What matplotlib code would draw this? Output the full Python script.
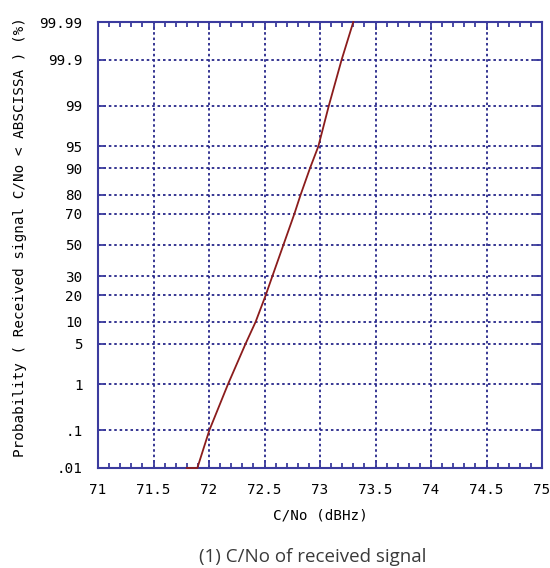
import math
import numpy as np
import matplotlib
matplotlib.use("Agg")
import matplotlib.pyplot as plt
from matplotlib.ticker import FixedLocator, FixedFormatter, MultipleLocator

# ---- data ----
cno_dbhz = [71.80, 71.895, 72.003, 72.17, 72.33, 72.42, 72.51, 72.57, 72.67,
            72.77, 72.826, 72.91, 72.985, 73.08, 73.195, 73.30]
prob_pct = [0.01, 0.01, 0.1, 1, 5, 10, 20, 30, 50,
            70, 80, 90, 95, 99, 99.9, 99.99]
y_ticks = [0.01, 0.1, 1, 5, 10, 20, 30, 50, 70, 80, 90, 95, 99, 99.9, 99.99]
y_tick_labels = [".01", ".1", "1", "5", "10", "20", "30", "50", "70", "80",
                 "90", "95", "99", "99.9", "99.99"]
x_ticks = [71, 71.5, 72, 72.5, 73, 73.5, 74, 74.5, 75]
x_tick_labels = ["71", "71.5", "72", "72.5", "73", "73.5", "74", "74.5", "75"]


# ---- normal probability scale ----
def _ppf(p):
    # Acklam's inverse normal approximation
    a = [-3.969683028665376e+01, 2.209460984245205e+02, -2.759285104469687e+02,
         1.383577518672690e+02, -3.066479806614716e+01, 2.506628277459239e+00]
    b = [-5.447609879822406e+01, 1.615858368580409e+02, -1.556989798598866e+02,
         6.680131188771972e+01, -1.328068155288572e+01]
    c = [-7.784894002430293e-03, -3.223964580411365e-01, -2.400758277161838e+00,
         -2.549732539343734e+00, 4.374664141464968e+00, 2.938163982698783e+00]
    d = [7.784695709041462e-03, 3.224671290700398e-01, 2.445134137142996e+00,
         3.754408661907416e+00]
    plow = 0.02425
    if p <= 0 or p >= 1 or not np.isfinite(p):
        return np.nan
    if p < plow:
        q = math.sqrt(-2 * math.log(p))
        return (((((c[0]*q+c[1])*q+c[2])*q+c[3])*q+c[4])*q+c[5]) / \
               ((((d[0]*q+d[1])*q+d[2])*q+d[3])*q+1)
    if p > 1 - plow:
        q = math.sqrt(-2 * math.log(1 - p))
        return -(((((c[0]*q+c[1])*q+c[2])*q+c[3])*q+c[4])*q+c[5]) / \
                ((((d[0]*q+d[1])*q+d[2])*q+d[3])*q+1)
    q = p - 0.5
    r = q * q
    return (((((a[0]*r+a[1])*r+a[2])*r+a[3])*r+a[4])*r+a[5])*q / \
           (((((b[0]*r+b[1])*r+b[2])*r+b[3])*r+b[4])*r+1)


def forward(pct):
    pct = np.asarray(pct, dtype=float)
    out = np.array([_ppf(v / 100.0) for v in pct.ravel()])
    return out.reshape(pct.shape)


def inverse(z):
    z = np.asarray(z, dtype=float)
    out = np.array([50.0 * (1 + math.erf(v / math.sqrt(2))) if np.isfinite(v) else np.nan
                    for v in z.ravel()])
    return out.reshape(z.shape)


mono = "DejaVu Sans Mono"
spine_c = "#3b3b9e"
grid_c = "#26268a"

fig = plt.figure(figsize=(5.5, 5.68), dpi=100)
ax = fig.add_axes([98/550, 1 - 468/568, 444/550, 446/568])
ax.set_yscale("function", functions=(forward, inverse))

ax.plot(cno_dbhz, prob_pct, color="#8b1c1c", lw=1.3, zorder=5, clip_on=False)

ax.set_xlim(71, 75)
ax.set_ylim(0.01, 99.99)

ax.yaxis.set_major_locator(FixedLocator(y_ticks))
ax.yaxis.set_major_formatter(FixedFormatter(y_tick_labels))
ax.yaxis.set_minor_locator(FixedLocator([]))
ax.xaxis.set_major_locator(FixedLocator(x_ticks))
ax.xaxis.set_major_formatter(FixedFormatter(x_tick_labels))
ax.xaxis.set_minor_locator(MultipleLocator(0.1))

ax.grid(True, which="major", color=grid_c, linestyle=(0, (1.4, 1.6)), lw=1.3)
for s in ax.spines.values():
    s.set_color(spine_c)
    s.set_linewidth(1.5)

ax.tick_params(axis="both", which="both", direction="in", colors=spine_c,
               labelcolor="black", top=True, right=True, width=1.3)
ax.tick_params(axis="y", which="major", length=6, pad=11, labelsize=10.3)
ax.tick_params(axis="x", which="major", length=6, pad=11, labelsize=10.3)
ax.tick_params(axis="x", which="minor", length=3.5)
for lab in ax.get_xticklabels() + ax.get_yticklabels():
    lab.set_fontfamily(mono)

ax.set_xlabel("C/No (dBHz)", fontfamily=mono, fontsize=10.3, labelpad=8)
fig.text(20/550, 1 - 237/568, "Probability ( Received signal C/No < ABSCISSA ) (%)",
         rotation=90, ha="center", va="center", fontfamily=mono, fontsize=10.3)
fig.text(313/550, 1 - 557/568, "(1) C/No of received signal", ha="center",
         va="center", fontfamily="Open Sans", fontsize=13.5, color="#3a3a3a")

fig.savefig("out.png", dpi=100)
